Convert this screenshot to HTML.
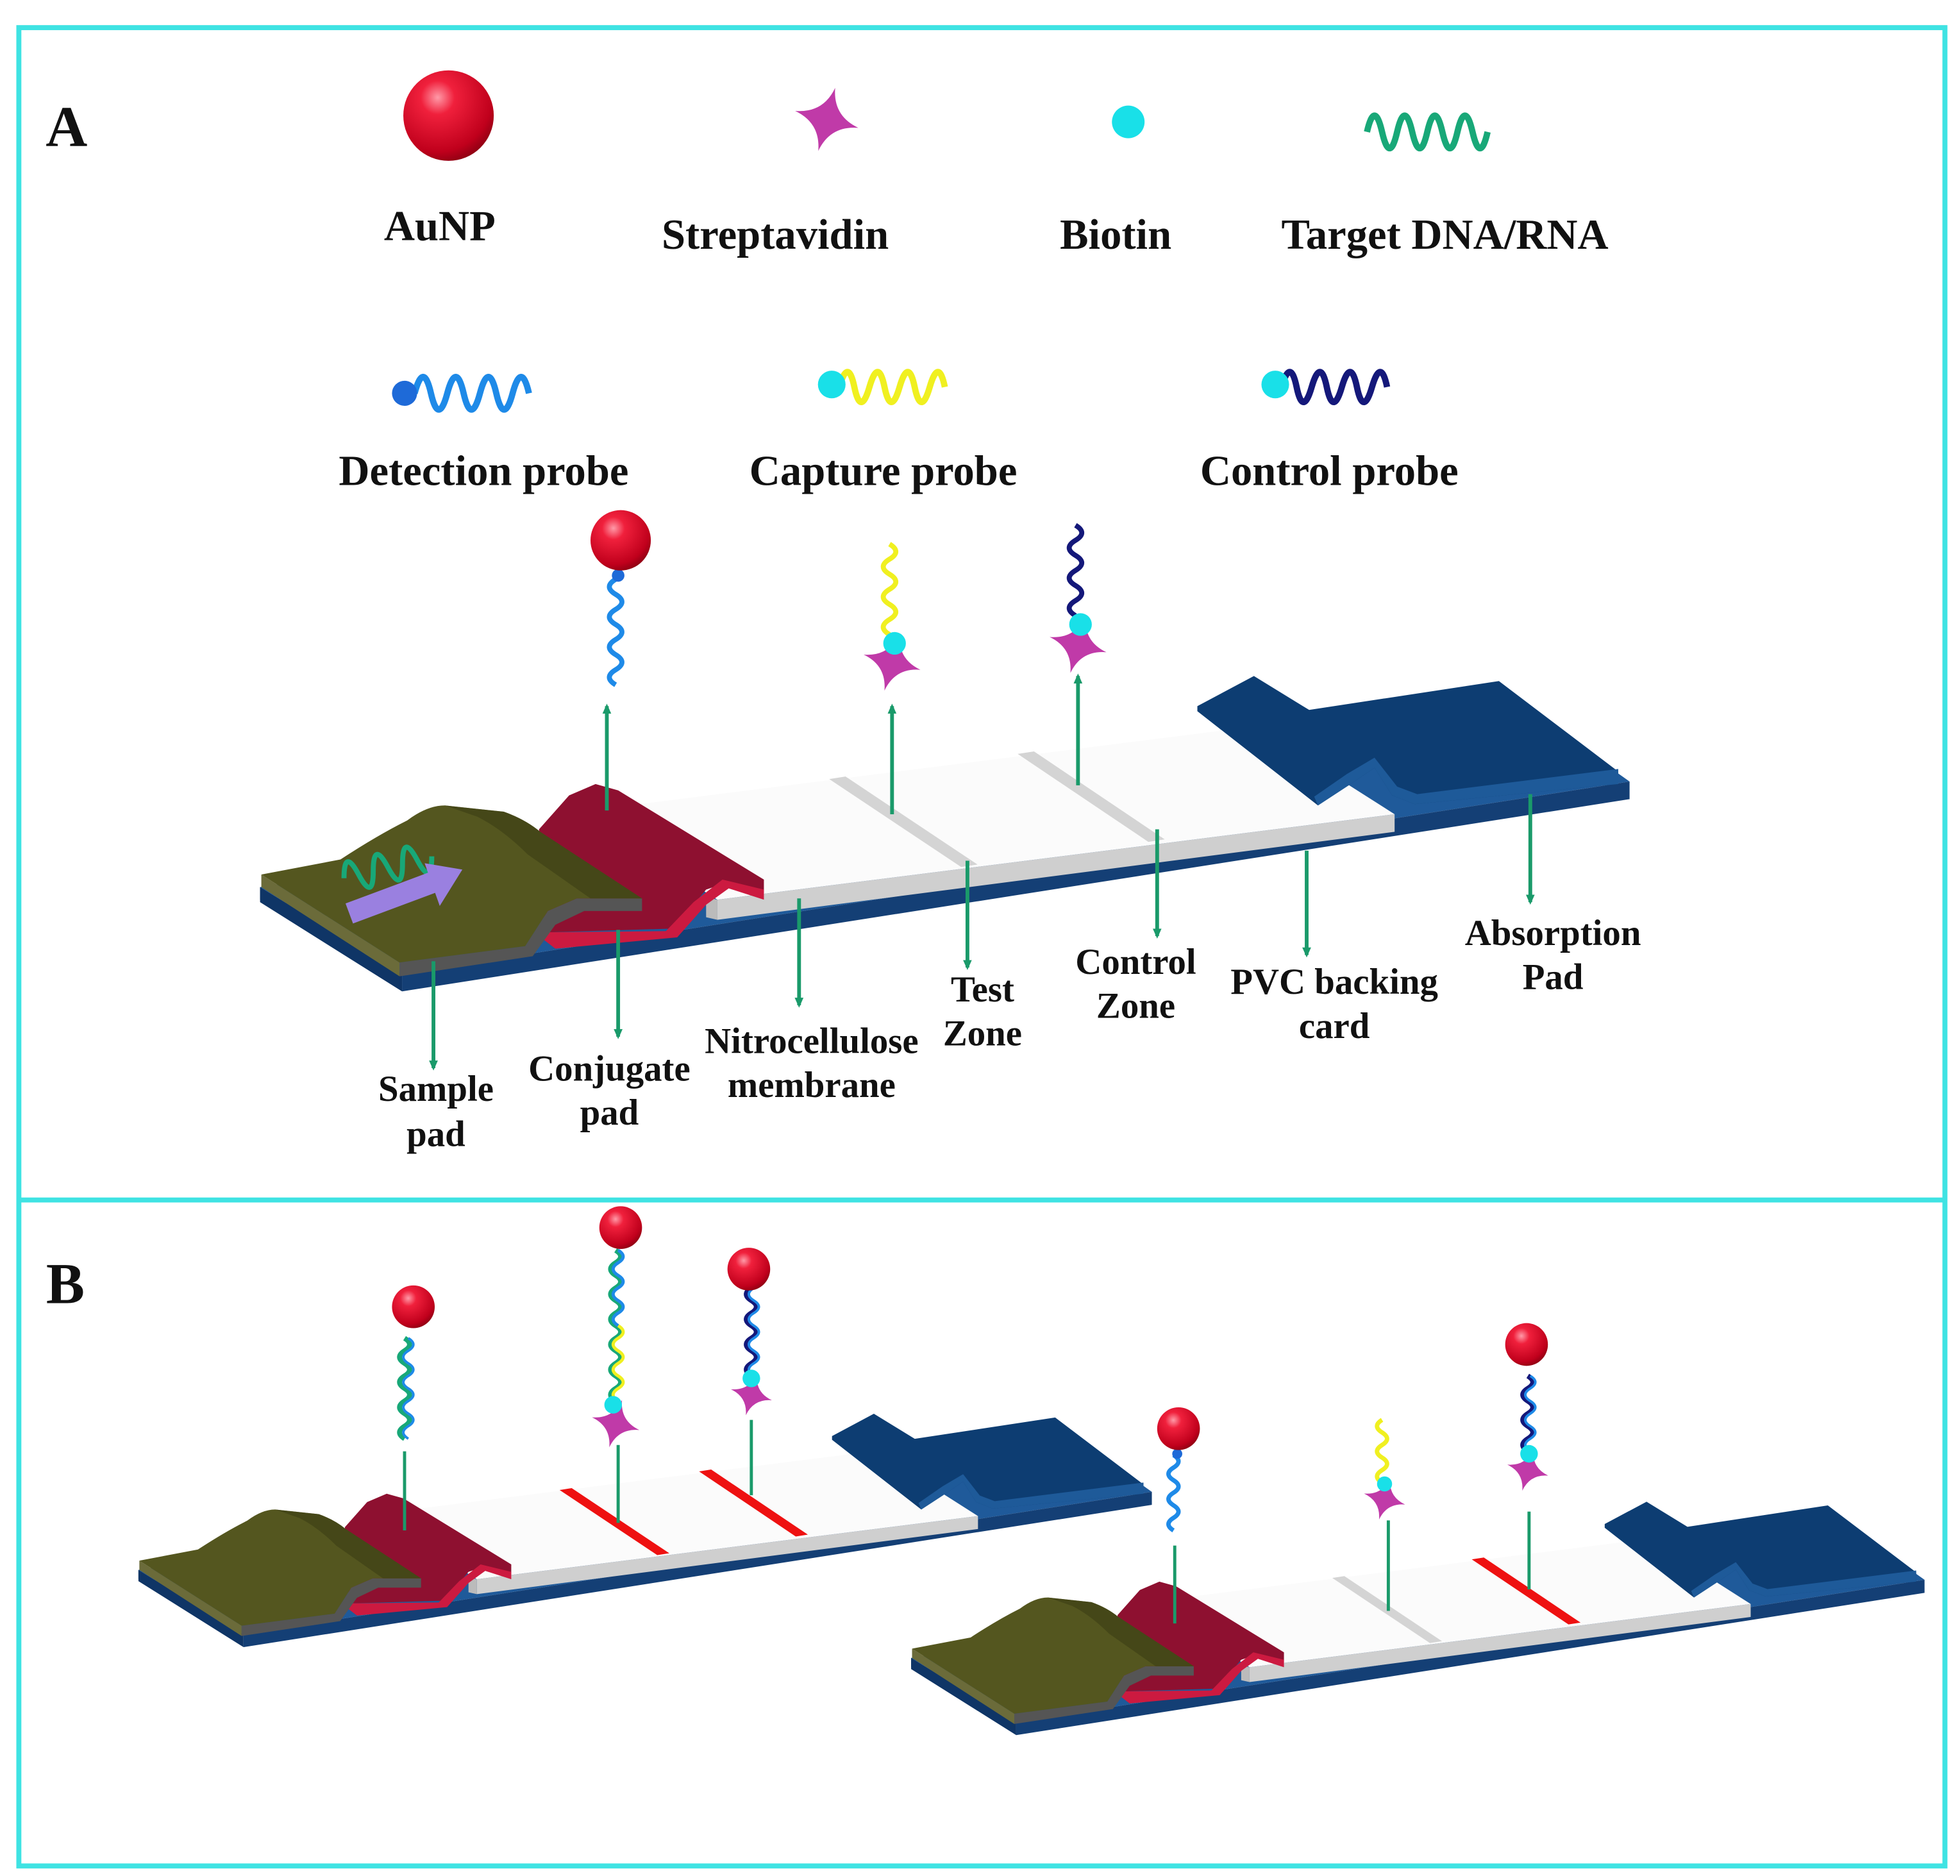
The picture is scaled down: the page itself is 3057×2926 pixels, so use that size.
<!DOCTYPE html>
<html><head><meta charset="utf-8"><style>
html,body{margin:0;padding:0;background:#fff;}
svg{display:block;}
text{font-family:"Liberation Serif",serif;font-weight:bold;fill:#111;text-anchor:middle;}
</style></head><body>
<svg width="3057" height="2926" viewBox="0 0 1560 1493" preserveAspectRatio="none" xmlns="http://www.w3.org/2000/svg">
<defs>
<radialGradient id="au" cx="0.38" cy="0.3" r="0.75">
<stop offset="0" stop-color="#ff9aa8"/><stop offset="0.25" stop-color="#f0203c"/><stop offset="0.8" stop-color="#c0001c"/><stop offset="1" stop-color="#8a0012"/>
</radialGradient>
<marker id="ah" markerUnits="userSpaceOnUse" markerWidth="8" markerHeight="8" refX="6" refY="4" orient="auto"><path d="M0,0.5 L8,4 L0,7.5 Z" fill="#1a9a6a"/></marker>
<path id="star" d="M0,-26 Q4,-4 26,0 Q4,4 0,26 Q-4,4 -26,0 Q-4,-4 0,-26 Z" fill="#c03aa8"/>
<g id="strip">
<!-- backing -->
<polygon points="207,706 1193,548 1297,622 320,775" fill="#1f5a9a"/>
<polygon points="320,775 1297,622 1297,636 320,789" fill="#143f75"/>
<polygon points="207,706 320,775 320,789 207,718" fill="#0f3566"/>
<!-- membrane -->
<polygon points="461,646 1000,578 1110,648 571,716" fill="#fbfbfb"/>
<polygon points="571,716 1110,648 1110,662 571,732" fill="#cfcfcf"/>
<polygon points="562,714 571,716 571,732 562,730" fill="#bbb"/>
<!-- conjugate pad -->
<polygon points="429,660 453,633 474,624 492,629 608,700 608,711 580,702 562,708 536,739 436,742 433,734" fill="#8e1030"/>
<polygon points="433,742 530,741 552,718 575,700 608,708 608,716 580,707 562,720 539,746 442,755 433,748" fill="#cc1a40"/>
<!-- sample pad -->
<polygon points="207,706 318,777 318,787 207,716" fill="#0f3566"/>
<polygon points="208,696 318,766 318,777 208,706" fill="#6b6b3a"/>
<polygon points="318,766 418,753 436,725 459,715 511,715 511,725 465,725 442,736 424,761 318,777" fill="#555"/>
<path d="M208,696 L271,684 Q300,665 324,653 Q340,641 354,641 L401,646 Q418,652 430,662 L511,715 L459,715 L436,725 L418,753 L318,766 Z" fill="#54561f"/>
<path d="M354,641 L401,646 Q418,652 430,662 L511,715 L470,715 L420,680 Q400,660 380,650 Z" fill="#3f4216" opacity="0.7"/>
<!-- absorption pad -->
<polygon points="953,562 998,538 1042,565 1193,542 1288,614 1288,624 1126,640 1108,633 1094,611 1075,624 1049,641 953,566" fill="#0d3d72"/>
<polygon points="1288,612 1288,624 1126,640 1108,633 1094,611 1075,624 1049,641 1046,634 1072,616 1094,603 1112,626 1128,632" fill="#1e5a99"/>
</g>
</defs>

<rect x="15" y="22" width="1533" height="1463" fill="none" stroke="#3fe3e3" stroke-width="4"/>
<line x1="15" y1="955" x2="1548" y2="955" stroke="#3fe3e3" stroke-width="4"/>
<text x="53" y="116" style="font-size:46px">A</text>
<text x="52" y="1037" style="font-size:46px">B</text>

<g style="font-size:34px">
<circle cx="357" cy="92" r="36" fill="url(#au)"/>
<text x="350" y="191">AuNP</text>
<use href="#star" transform="translate(658,95) rotate(15)"/>
<text x="617" y="198">Streptavidin</text>
<circle cx="898" cy="97" r="13" fill="#19e0e8"/>
<text x="888" y="198">Biotin</text>
<path d="M1088,105 q6,-26 12,0 t12,0 t12,0 t12,0 t12,0 t12,0 t12,0 t12,0" fill="none" stroke="#18a878" stroke-width="5"/>
<text x="1150" y="198">Target DNA/RNA</text>
<path d="M330,313 q7,-26 13,0 t13,0 t13,0 t13,0 t13,0 t13,0 t13,0" fill="none" stroke="#1e8ae8" stroke-width="5"/>
<circle cx="322" cy="313" r="10" fill="#1e6ad8"/>
<text x="385" y="386">Detection probe</text>
<path d="M668,308 q7,-24 12,0 t12,0 t12,0 t12,0 t12,0 t12,0 t12,0" fill="none" stroke="#f0f020" stroke-width="5"/>
<circle cx="662" cy="306" r="11" fill="#19e0e8"/>
<text x="703" y="386">Capture probe</text>
<path d="M1020,308 q7,-24 12,0 t12,0 t12,0 t12,0 t12,0 t12,0 t12,0" fill="none" stroke="#14187a" stroke-width="5"/>
<circle cx="1015" cy="306" r="11" fill="#19e0e8"/>
<text x="1058" y="386">Control probe</text>
</g>

<!-- strip A -->
<use href="#strip"/>
<polygon points="660,620 673,618 778,688 765,690" fill="#d4d4d4"/>
<polygon points="810,600 823,598 927,668 914,670" fill="#d4d4d4"/>
<path d="M270,692 q6,-24 12,0 t12,0 t12,0 t12,0 t12,0 t12,0" fill="none" stroke="#18a878" stroke-width="4" transform="rotate(-14 300 680)"/>
<line x1="278" y1="727" x2="345" y2="702" stroke="#9a80e0" stroke-width="17"/>
<polygon points="338,687 368,692 350,721" fill="#9a80e0"/>

<g stroke="#1a9a6a" stroke-width="3" fill="none">
<line x1="483" y1="645" x2="483" y2="562" marker-end="url(#ah)"/>
<line x1="710" y1="648" x2="710" y2="562" marker-end="url(#ah)"/>
<line x1="858" y1="625" x2="858" y2="538" marker-end="url(#ah)"/>
<line x1="345" y1="765" x2="345" y2="850" marker-end="url(#ah)"/>
<line x1="492" y1="740" x2="492" y2="825" marker-end="url(#ah)"/>
<line x1="636" y1="715" x2="636" y2="800" marker-end="url(#ah)"/>
<line x1="770" y1="685" x2="770" y2="770" marker-end="url(#ah)"/>
<line x1="921" y1="660" x2="921" y2="745" marker-end="url(#ah)"/>
<line x1="1040" y1="677" x2="1040" y2="760" marker-end="url(#ah)"/>
<line x1="1218" y1="632" x2="1218" y2="718" marker-end="url(#ah)"/>
</g>
<!-- A probes -->
<path d="M490,545 q-10,-6 0,-12 t0,-12 t0,-12 t0,-12 t0,-12 t0,-12 t0,-12" fill="none" stroke="#1e8ae8" stroke-width="4"/>
<circle cx="492" cy="458" r="5" fill="#1e6ad8"/>
<circle cx="494" cy="430" r="24" fill="url(#au)"/>
<path d="M708,505 q-10,-6 0,-12 t0,-12 t0,-12 t0,-12 t0,-12 t0,-12" fill="none" stroke="#f0f020" stroke-width="4"/>
<use href="#star" transform="translate(710,527) rotate(15) scale(0.9)"/>
<circle cx="712" cy="512" r="9" fill="#19e0e8"/>
<path d="M856,490 q-10,-6 0,-12 t0,-12 t0,-12 t0,-12 t0,-12 t0,-12" fill="none" stroke="#14187a" stroke-width="4"/>
<use href="#star" transform="translate(858,513) rotate(15) scale(0.9)"/>
<circle cx="860" cy="497" r="9" fill="#19e0e8"/>

<g style="font-size:29px">
<text x="347" y="876">Sample</text><text x="347" y="912">pad</text>
<text x="485" y="860">Conjugate</text><text x="485" y="895">pad</text>
<text x="646" y="838">Nitrocellulose</text><text x="646" y="873">membrane</text>
<text x="782" y="797">Test</text><text x="782" y="832">Zone</text>
<text x="904" y="775">Control</text><text x="904" y="810">Zone</text>
<text x="1062" y="791">PVC backing</text><text x="1062" y="826">card</text>
<text x="1236" y="752">Absorption</text><text x="1236" y="787">Pad</text>
</g>

<!-- B strips -->
<g transform="translate(-43,727) scale(0.74)">
<use href="#strip"/>
<polygon points="660,620 673,618 778,688 765,690" fill="#ee1111"/>
<polygon points="810,600 823,598 927,668 914,670" fill="#ee1111"/>
</g>
<g transform="translate(572,797) scale(0.74)">
<use href="#strip"/>
<polygon points="660,620 673,618 778,688 765,690" fill="#d4d4d4"/>
<polygon points="810,600 823,598 927,668 914,670" fill="#ee1111"/>
</g>

<g stroke="#1a9a6a" stroke-width="2.5">
<line x1="322" y1="1155" x2="322" y2="1218"/>
<line x1="492" y1="1150" x2="492" y2="1212"/>
<line x1="598" y1="1130" x2="598" y2="1190"/>
<line x1="935" y1="1230" x2="935" y2="1292"/>
<line x1="1105" y1="1210" x2="1105" y2="1282"/>
<line x1="1217" y1="1203" x2="1217" y2="1265"/>
</g>
<path d="M322,1145 q-8,-5 0,-10 t0,-10 t0,-10 t0,-10 t0,-10 t0,-10 t0,-10 t0,-10" fill="none" stroke="#18a878" stroke-width="4"/>
<path d="M325,1145 q-8,-5 0,-10 t0,-10 t0,-10 t0,-10 t0,-10 t0,-10 t0,-10 t0,-10" fill="none" stroke="#1e8ae8" stroke-width="2"/>
<circle cx="329" cy="1040" r="17" fill="url(#au)"/>
<path d="M490,1115 q-8,-5 0,-10 t0,-10 t0,-10 t0,-10 t0,-10 t0,-10 t0,-10 t0,-10 t0,-10 t0,-10 t0,-10 t0,-10" fill="none" stroke="#18a878" stroke-width="4"/>
<path d="M492,1115 q-8,-5 0,-10 t0,-10 t0,-10 t0,-10 t0,-10 t0,-10" fill="none" stroke="#f0f020" stroke-width="2.5"/>
<path d="M492,1055 q-8,-5 0,-10 t0,-10 t0,-10 t0,-10 t0,-10 t0,-10" fill="none" stroke="#1e8ae8" stroke-width="2.5"/>
<use href="#star" transform="translate(490,1133) rotate(15) scale(0.75)"/>
<circle cx="488" cy="1118" r="7" fill="#19e0e8"/>
<circle cx="494" cy="977" r="17" fill="url(#au)"/>
<path d="M598,1095 q-8,-5 0,-10 t0,-10 t0,-10 t0,-10 t0,-10 t0,-10 t0,-10" fill="none" stroke="#14187a" stroke-width="4"/>
<path d="M600,1095 q-8,-5 0,-10 t0,-10 t0,-10 t0,-10 t0,-10 t0,-10 t0,-10" fill="none" stroke="#1e8ae8" stroke-width="2"/>
<use href="#star" transform="translate(598,1110) rotate(15) scale(0.65)"/>
<circle cx="598" cy="1097" r="7" fill="#19e0e8"/>
<circle cx="596" cy="1010" r="17" fill="url(#au)"/>
<path d="M934,1218 q-8,-5 0,-10 t0,-10 t0,-10 t0,-10 t0,-10 t0,-10" fill="none" stroke="#1e8ae8" stroke-width="3.5"/>
<circle cx="937" cy="1157" r="4" fill="#1e6ad8"/>
<circle cx="938" cy="1137" r="17" fill="url(#au)"/>
<path d="M1100,1180 q-8,-5 0,-10 t0,-10 t0,-10 t0,-10 t0,-10" fill="none" stroke="#f0f020" stroke-width="3.5"/>
<use href="#star" transform="translate(1102,1193) rotate(15) scale(0.65)"/>
<circle cx="1102" cy="1181" r="6" fill="#19e0e8"/>
<path d="M1216,1155 q-8,-5 0,-10 t0,-10 t0,-10 t0,-10 t0,-10 t0,-10" fill="none" stroke="#14187a" stroke-width="4"/>
<path d="M1218,1155 q-8,-5 0,-10 t0,-10 t0,-10 t0,-10 t0,-10 t0,-10" fill="none" stroke="#1e8ae8" stroke-width="2"/>
<use href="#star" transform="translate(1216,1170) rotate(15) scale(0.65)"/>
<circle cx="1217" cy="1157" r="7" fill="#19e0e8"/>
<circle cx="1215" cy="1070" r="17" fill="url(#au)"/>
</svg>
</body></html>
